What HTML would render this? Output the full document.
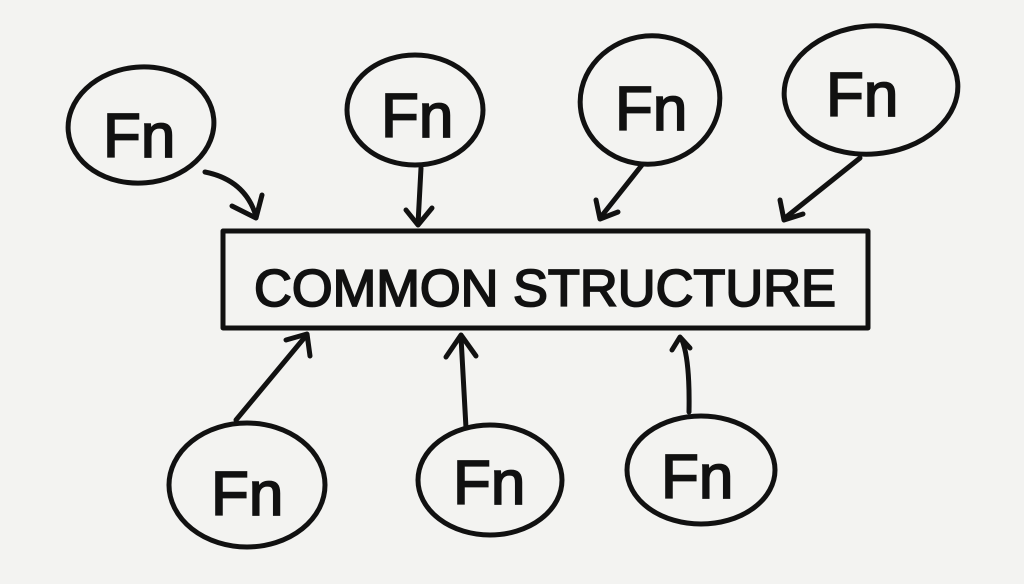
<!DOCTYPE html>
<html><head><meta charset="utf-8"><style>
html,body{margin:0;padding:0;background:#f3f3f1;}
svg{display:block}
text{font-family:"Liberation Sans",sans-serif;fill:#111;stroke:#111;stroke-width:1.8;}
</style></head><body>
<svg width="1024" height="584" viewBox="0 0 1024 584" xmlns="http://www.w3.org/2000/svg">
<rect width="1024" height="584" fill="#f3f3f1"/>
<g fill="none" stroke="#111" stroke-width="5" stroke-linecap="round" stroke-linejoin="round">
<ellipse cx="141" cy="125" rx="73" ry="58" transform="rotate(-5 141 125)"/>
<ellipse cx="415" cy="110" rx="68" ry="55"/>
<ellipse cx="650" cy="100" rx="70" ry="64" transform="rotate(-10 650 100)"/>
<ellipse cx="871" cy="90" rx="87" ry="64" transform="rotate(-5 871 90)"/>
<ellipse cx="247" cy="485" rx="78" ry="62"/>
<ellipse cx="490" cy="480" rx="72" ry="55"/>
<ellipse cx="701" cy="470" rx="74" ry="54"/>
<rect x="223" y="231" width="645" height="97"/>
<path d="M205 172 Q245 180 256 216"/><path d="M232 206 L256 218 L262 195"/>
<path d="M421 168 L418 224"/><path d="M406 210 L418 225 L432 208"/>
<path d="M642 165 L600 218"/><path d="M596 200 L600 219 L618 212"/>
<path d="M860 158 L785 218"/><path d="M780 200 L784 220 L803 214"/>
<path d="M236 420 L305 337"/><path d="M286 340 L307 334 L310 356"/>
<path d="M466 428 L461 337"/><path d="M446 357 L461 335 L476 356"/>
<path d="M689 412 Q690 360 682 340"/><path d="M672 350 L680 337 L690 348"/>
</g>
<g font-size="62">
<text x="103" y="157">Fn</text>
<text x="381" y="137">Fn</text>
<text x="615" y="130">Fn</text>
<text x="826" y="116">Fn</text>
<text x="211" y="515">Fn</text>
<text x="453" y="504">Fn</text>
<text x="661" y="498">Fn</text>
</g>
<text x="254" y="306" font-size="52" textLength="582" lengthAdjust="spacingAndGlyphs">COMMON STRUCTURE</text>
</svg>
</body></html>
